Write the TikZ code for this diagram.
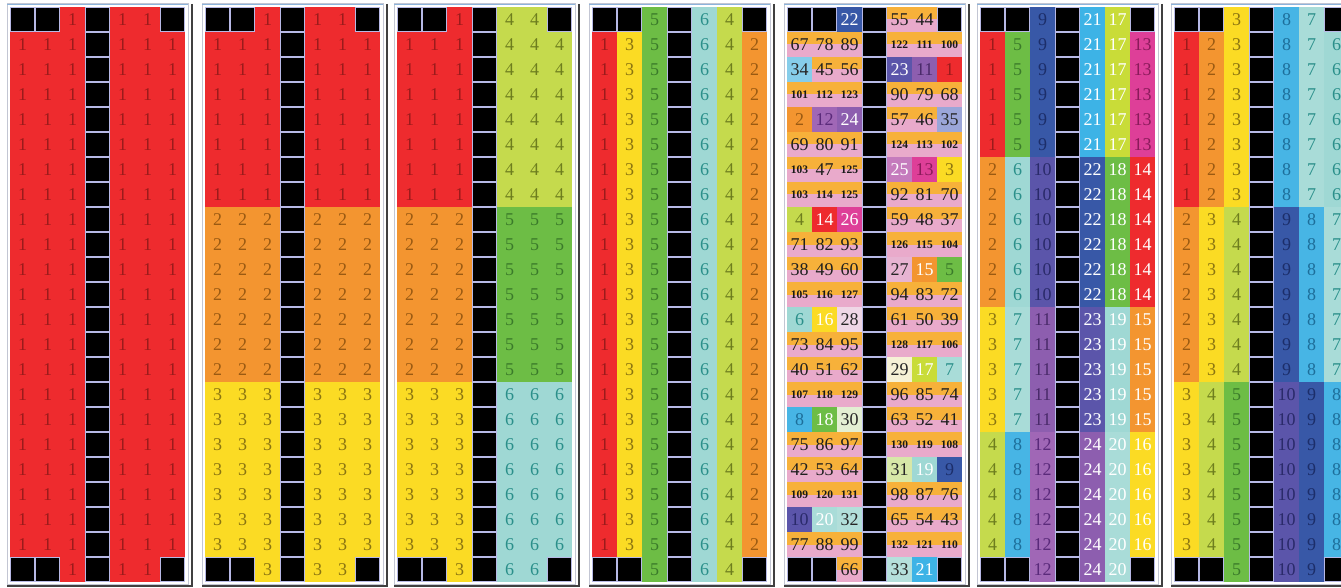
\documentclass[tikz,border=0pt]{standalone}
\usepackage{fontspec}
\setmainfont{Liberation Serif}

\definecolor{c1}{HTML}{EE2B2E}
\definecolor{c2}{HTML}{F39530}
\definecolor{c3}{HTML}{FBDB24}
\definecolor{c4}{HTML}{C5DA4D}
\definecolor{c5}{HTML}{6DBD45}
\definecolor{c6}{HTML}{9FD8D4}
\definecolor{c7}{HTML}{A9DCD8}
\definecolor{c8}{HTML}{47B5E5}
\definecolor{c9}{HTML}{3858A7}
\definecolor{c10}{HTML}{5B55AA}
\definecolor{c11}{HTML}{8D5EAF}
\definecolor{c12}{HTML}{A067B6}
\definecolor{c13}{HTML}{DE3F98}
\colorlet{c14}{c1}
\colorlet{c15}{c2}
\colorlet{c16}{c3}
\definecolor{c17}{HTML}{C9DC38}
\colorlet{c18}{c5}
\colorlet{c19}{c6}
\colorlet{c20}{c7}
\definecolor{c21}{HTML}{3DB3E6}
\colorlet{c22}{c9}
\colorlet{c23}{c10}
\colorlet{c24}{c11}
\definecolor{c25}{HTML}{C57BBD}
\colorlet{c26}{c13}
\definecolor{c27}{HTML}{E7B4D2}
\definecolor{c28}{HTML}{EFD7E6}
\definecolor{c29}{HTML}{F6F1D6}
\definecolor{c30}{HTML}{E3EFD3}
\definecolor{c31}{HTML}{D7E8A8}
\definecolor{c32}{HTML}{B2DFDA}
\definecolor{c33}{HTML}{B5E0DC}
\definecolor{c34}{HTML}{86CDEA}
\definecolor{c35}{HTML}{9BA6D9}

\definecolor{t1}{HTML}{9B1B1B}
\definecolor{t2}{HTML}{9A5A12}
\definecolor{t3}{HTML}{8A7410}
\definecolor{t4}{HTML}{6E7E1E}
\definecolor{t5}{HTML}{3A7A2A}
\definecolor{t6}{HTML}{2A8F8A}
\colorlet{t7}{t6}
\definecolor{t8}{HTML}{1D6E9A}
\definecolor{t9}{HTML}{1C2E6A}
\definecolor{t10}{HTML}{2A2A6A}
\definecolor{t11}{HTML}{4A2A6A}
\definecolor{t12}{HTML}{5A2A7A}
\definecolor{t13}{HTML}{8A1A5A}
\colorlet{t14}{white}
\colorlet{t15}{white}
\colorlet{t16}{white}
\colorlet{t17}{white}
\colorlet{t18}{white}
\colorlet{t19}{white}
\colorlet{t20}{white}
\colorlet{t21}{white}
\colorlet{t22}{white}
\colorlet{t23}{white}
\colorlet{t24}{white}
\colorlet{t25}{white}
\colorlet{t26}{white}
\colorlet{t27}{black!85}
\colorlet{t28}{black!85}
\colorlet{t29}{black!85}
\colorlet{t30}{black!85}
\colorlet{t31}{black!85}
\colorlet{t32}{black!85}
\colorlet{t33}{black!85}
\colorlet{t34}{black!85}
\colorlet{t35}{black!85}

\definecolor{gridline}{HTML}{B7B9E6}
\definecolor{orangehalf}{HTML}{F7B13A}
\definecolor{pinkhalf}{HTML}{E9AACB}
\definecolor{framegray}{HTML}{C3C6D3}
\definecolor{frametop}{HTML}{8CB4DC}

\tikzset{
  cellbox/.style={rectangle, inner sep=0pt, minimum width=25pt, minimum height=25pt,
    anchor=north west, font=\fontsize{18}{18}\selectfont},
  blackcell/.style={rectangle, fill=black, inner sep=0pt, minimum width=23pt,
    minimum height=23pt, anchor=north west},
  bignum/.style={inner sep=0pt, text=black!88, font=\fontsize{18}{18}\selectfont},
  hugenum/.style={inner sep=0pt, text=black!90, font=\bfseries\fontsize{11.5}{12}\selectfont},
  panelframe/.style={draw=framegray, line width=1pt},
  paneltop/.style={draw=frametop, line width=1.5pt},
  panelshade/.style={draw=black!75, line width=2pt}
}

% one square of a board: top left corner, number (0 = black), name
\newcommand{\cellat}[4]{%
  \ifnum#3=0
    \fill[gridline] (#1,#2) rectangle ++(25,25);
    \node[blackcell] (#4) at (#1+1,#2+1) {};
  \else\ifnum#3<36
    \node[cellbox, fill=c#3, text=t#3] (#4) at (#1,#2) {#3};
  \else
    \fill[pinkhalf] (#1,#2) rectangle ++(25,25);
    \fill[orangehalf] (#1,#2) rectangle ++(25,12.5);
    \ifnum#3<100
      \node[bignum] (#4) at (#1+12.5,#2+12.5) {#3};
    \else
      \node[hugenum] (#4) at (#1+12.5,#2+12.5) {#3};
    \fi
  \fi\fi}

% number on board #1, row #2, column #3
\newcommand{\setnum}[3]{%
  \pgfmathtruncatemacro{\gA}{#2<8 ? 0 : (#2<15 ? 1 : 2)}%
  \pgfmathtruncatemacro{\gB}{#2<6 ? 0 : (#2<12 ? 1 : (#2<17 ? 2 : 3))}%
  \ifcase#1\def\n{0}%
  \or \def\n{1}%
  \or \pgfmathtruncatemacro{\n}{\gA+1}%
  \or \pgfmathtruncatemacro{\n}{#3<3 ? \gA+1 : \gA+4}%
  \or \pgfmathtruncatemacro{\n}{{1,3,5,0,6,4,2}[#3]}%
  \or \def\n{0}%
  \or \pgfmathtruncatemacro{\n}{{1,5,9,0,21,17,13}[#3]+\gB}%
  \or \pgfmathtruncatemacro{\n}{{1,2,3,0,8,7,6}[#3]+\gA}%
  \fi
  \ifnum#3=3 \def\n{0}\fi
  \ifnum#2=0 \ifnum#3<2 \def\n{0}\fi \ifnum#3=6 \def\n{0}\fi \fi
  \ifnum#2=22 \ifnum#3<2 \def\n{0}\fi \ifnum#3=6 \def\n{0}\fi \fi}

\begin{document}
\begin{tikzpicture}[x=1pt, y=-1pt]
  \useasboundingbox (0,0) rectangle (1341,588);
  \clip (0,0) rectangle (1341,588);
  \fill[white] (0,0) rectangle (1341,588);

  \foreach \px in {10,205,397,592,787,980,1174}{
    \draw[panelframe] (\px-3,4) rectangle (\px+178,584);
    \draw[paneltop] (\px-3,4.5) -- (\px+178,4.5);
    \draw[panelshade] (\px+182,4) -- (\px+182,586) -- (\px-3,586);
  }

  \foreach \px/\pid in {10/1,205/2,397/3,592/4,980/6,1174/7}{
    \foreach \r in {0,...,22}{
      \foreach \c in {0,...,6}{
        \setnum{\pid}{\r}{\c}
        \cellat{\px+25*\c}{7+25*\r}{\n}{p\pid-\r-\c}
      }
    }
  }

  \foreach \a/\b/\cc/\d/\e/\f [count=\r from 0] in {
      0/0/22/55/44/0, 67/78/89/122/111/100, 34/45/56/23/11/1,
      101/112/123/90/79/68, 2/12/24/57/46/35, 69/80/91/124/113/102,
      103/47/125/25/13/3, 103/114/125/92/81/70, 4/14/26/59/48/37,
      71/82/93/126/115/104, 38/49/60/27/15/5, 105/116/127/94/83/72,
      6/16/28/61/50/39, 73/84/95/128/117/106, 40/51/62/29/17/7,
      107/118/129/96/85/74, 8/18/30/63/52/41, 75/86/97/130/119/108,
      42/53/64/31/19/9, 109/120/131/98/87/76, 10/20/32/65/54/43,
      77/88/99/132/121/110, 0/0/66/33/21/0}{
    \cellat{787}{7+25*\r}{\a}{p5-\r-0}
    \cellat{812}{7+25*\r}{\b}{p5-\r-1}
    \cellat{837}{7+25*\r}{\cc}{p5-\r-2}
    \cellat{862}{7+25*\r}{0}{p5-\r-3}
    \cellat{887}{7+25*\r}{\d}{p5-\r-4}
    \cellat{912}{7+25*\r}{\e}{p5-\r-5}
    \cellat{937}{7+25*\r}{\f}{p5-\r-6}
  }
\end{tikzpicture}
\end{document}
